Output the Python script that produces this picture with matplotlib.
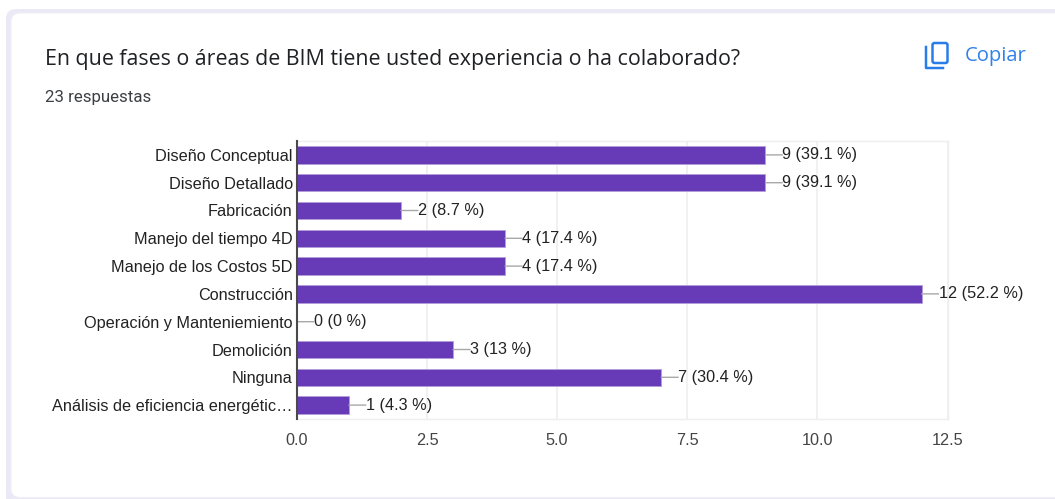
import matplotlib
matplotlib.use("Agg")
import matplotlib.pyplot as plt
from matplotlib.patches import FancyBboxPatch

W, H = 1055, 499

categories = ["Diseño Conceptual", "Diseño Detallado", "Fabricación", "Manejo del tiempo 4D",
              "Manejo de los Costos 5D", "Construcción", "Operación y Manteniemiento",
              "Demolición", "Ninguna", "Análisis de eficiencia energétic…"]
values = [9, 9, 2, 4, 4, 12, 0, 3, 7, 1]
percent_labels = ["39.1 %", "39.1 %", "8.7 %", "17.4 %", "17.4 %", "52.2 %", "0 %", "13 %", "30.4 %", "4.3 %"]
x_ticks = [0.0, 2.5, 5.0, 7.5, 10.0, 12.5]
title = "En que fases o áreas de BIM tiene usted experiencia o ha colaborado?"
subtitle = "23 respuestas"
copy_label = "Copiar"

BAR = "#673ab7"
TXT = "#222222"
PX = 72 / 100  # one pixel in points at dpi=100

fig = plt.figure(figsize=(W / 100, H / 100), dpi=100, facecolor="white")

# page overlay in pixel coordinates
bg = fig.add_axes([0, 0, 1, 1], zorder=0)
bg.set_xlim(0, W)
bg.set_ylim(H, 0)
bg.axis("off")
bg.add_patch(FancyBboxPatch((6, 9), W + 40, H + 40, boxstyle="round,pad=0,rounding_size=10",
                            fc="#ebe9f5", ec="none"))
bg.add_patch(FancyBboxPatch((11, 13), W + 40, H - 14.5, boxstyle="round,pad=0,rounding_size=9",
                            fc="white", ec="#f0eff7", lw=0.8))
bg.text(45, 59, title, fontsize=15.4, family="Open Sans", color="#202124", va="center", ha="left")
bg.text(45, 97, subtitle, fontsize=12.2, family="Roboto", color="#3c4043", va="center", ha="left")
bg.text(965, 55.5, copy_label, fontsize=14.6, family="Open Sans", color="#1a73e8", va="center", ha="left",
        alpha=0.9)
bg.add_patch(FancyBboxPatch((932.5, 43), 15, 20, boxstyle="round,pad=0,rounding_size=2",
                            fc="none", ec="#2a7de9", lw=2.5 * PX))
bg.plot([926, 926, 943], [47, 67.5, 67.5], color="#2a7de9", lw=2.5 * PX, solid_joinstyle="round")

# chart
x0, x1, y0, y1 = 296.8, 947.6, 141, 419
ax = fig.add_axes([x0 / W, 1 - y1 / H, (x1 - x0) / W, (y1 - y0) / H], zorder=1)
ax.patch.set_alpha(0)
n = len(categories)
ax.barh(range(n), values, height=0.62, color=BAR, edgecolor="#b39ddb", linewidth=0.6, zorder=3)
ax.set_xlim(0, 12.5)
ax.set_ylim(n - 0.5, -0.5)
ax.set_xticks(x_ticks)
ax.set_xticklabels([f"{t:.1f}" for t in x_ticks], fontsize=11.7, family="Liberation Sans", color="#444444")
ax.set_yticks(range(n))
ax.set_yticklabels(categories, fontsize=11.7, family="Liberation Sans", color=TXT)
ax.tick_params(axis="both", length=0)
ax.tick_params(axis="y", pad=3)
ax.tick_params(axis="x", pad=10)
ax.grid(axis="x", color="#efefef", lw=1.2, zorder=0)
ax.set_axisbelow(True)
for s in ["top", "right", "bottom"]:
    ax.spines[s].set_color("#efefef")
    ax.spines[s].set_linewidth(1.0)
ax.spines["left"].set_color("#4a4a4a")
ax.spines["left"].set_linewidth(1.5)
ax.spines["left"].set_zorder(5)

for i, (v, p) in enumerate(zip(values, percent_labels)):
    ax.annotate("", xy=(v, i), xytext=(17 * PX, 0), textcoords="offset points",
                arrowprops=dict(arrowstyle="-", color="#a8a8a8", lw=1.0, shrinkA=0, shrinkB=0), zorder=4)
    ax.annotate(f"{v} ({p})", xy=(v, i), xytext=(17 * PX, 0), textcoords="offset points",
                fontsize=11.7, family="Liberation Sans", color=TXT, va="center", ha="left",
                annotation_clip=False)

fig.savefig("out.png", dpi=100)
